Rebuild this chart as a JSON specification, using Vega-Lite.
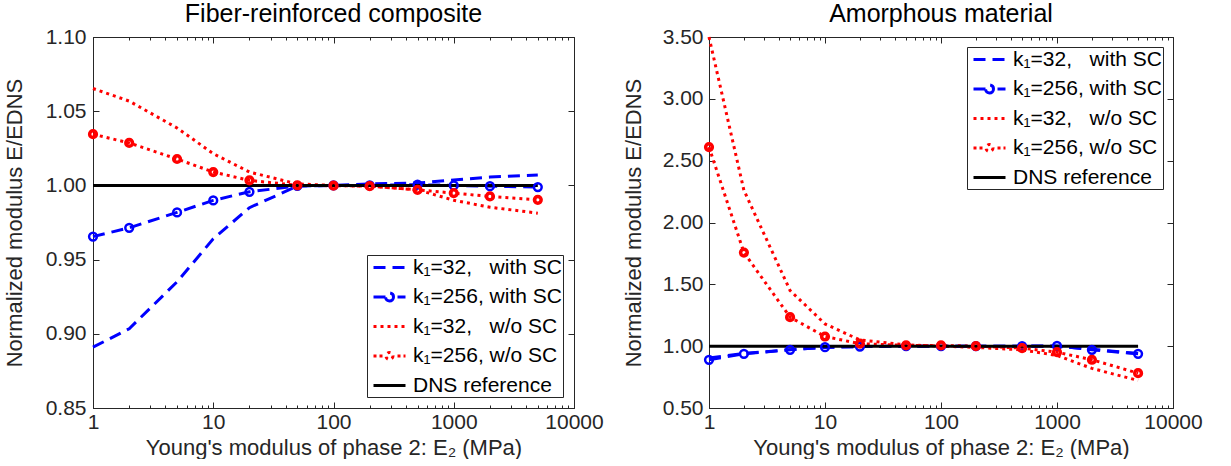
{
  "$schema": "https://vega.github.io/schema/vega-lite/v6.json",
  "background": "white",
  "padding": {"left": 2, "top": 1, "right": 5, "bottom": 0},
  "config": {
    "font": "Liberation Sans",
    "view": {"stroke": "#262626", "strokeWidth": 1},
    "axis": {"domainColor": "#262626", "tickColor": "#262626", "labelColor": "#262626", "titleColor": "#262626", "labelFontSize": 21, "titleFontSize": 22, "titleFontWeight": "normal", "grid": false, "tickWidth": 1, "domainWidth": 1},
    "title": {"fontSize": 25, "fontWeight": "normal", "color": "#000000", "offset": -1}
  },
  "datasets": {
    "L": [
      {"series": "k\u2081=32,\u00a0\u00a0\u00a0with SC", "E2": 1, "ratio": 0.891},
      {"series": "k\u2081=32,\u00a0\u00a0\u00a0with SC", "E2": 2, "ratio": 0.9034},
      {"series": "k\u2081=32,\u00a0\u00a0\u00a0with SC", "E2": 5, "ratio": 0.935},
      {"series": "k\u2081=32,\u00a0\u00a0\u00a0with SC", "E2": 10, "ratio": 0.964},
      {"series": "k\u2081=32,\u00a0\u00a0\u00a0with SC", "E2": 20, "ratio": 0.985},
      {"series": "k\u2081=32,\u00a0\u00a0\u00a0with SC", "E2": 50, "ratio": 0.9995},
      {"series": "k\u2081=32,\u00a0\u00a0\u00a0with SC", "E2": 100, "ratio": 1.0},
      {"series": "k\u2081=32,\u00a0\u00a0\u00a0with SC", "E2": 200, "ratio": 1.001},
      {"series": "k\u2081=32,\u00a0\u00a0\u00a0with SC", "E2": 500, "ratio": 1.0016},
      {"series": "k\u2081=32,\u00a0\u00a0\u00a0with SC", "E2": 1000, "ratio": 1.0036},
      {"series": "k\u2081=32,\u00a0\u00a0\u00a0with SC", "E2": 2000, "ratio": 1.0056},
      {"series": "k\u2081=32,\u00a0\u00a0\u00a0with SC", "E2": 5000, "ratio": 1.007},
      {"series": "k\u2081=256, with SC", "E2": 1, "ratio": 0.9655},
      {"series": "k\u2081=256, with SC", "E2": 2, "ratio": 0.9714},
      {"series": "k\u2081=256, with SC", "E2": 5, "ratio": 0.9818},
      {"series": "k\u2081=256, with SC", "E2": 10, "ratio": 0.9899},
      {"series": "k\u2081=256, with SC", "E2": 20, "ratio": 0.9957},
      {"series": "k\u2081=256, with SC", "E2": 50, "ratio": 0.9996},
      {"series": "k\u2081=256, with SC", "E2": 100, "ratio": 1.0},
      {"series": "k\u2081=256, with SC", "E2": 200, "ratio": 1.0},
      {"series": "k\u2081=256, with SC", "E2": 500, "ratio": 1.0005},
      {"series": "k\u2081=256, with SC", "E2": 1000, "ratio": 1.0},
      {"series": "k\u2081=256, with SC", "E2": 2000, "ratio": 0.9995},
      {"series": "k\u2081=256, with SC", "E2": 5000, "ratio": 0.9989},
      {"series": "k\u2081=32,\u00a0\u00a0\u00a0w/o SC", "E2": 1, "ratio": 1.0653},
      {"series": "k\u2081=32,\u00a0\u00a0\u00a0w/o SC", "E2": 2, "ratio": 1.0568},
      {"series": "k\u2081=32,\u00a0\u00a0\u00a0w/o SC", "E2": 5, "ratio": 1.0387},
      {"series": "k\u2081=32,\u00a0\u00a0\u00a0w/o SC", "E2": 10, "ratio": 1.0214},
      {"series": "k\u2081=32,\u00a0\u00a0\u00a0w/o SC", "E2": 20, "ratio": 1.009},
      {"series": "k\u2081=32,\u00a0\u00a0\u00a0w/o SC", "E2": 50, "ratio": 1.001},
      {"series": "k\u2081=32,\u00a0\u00a0\u00a0w/o SC", "E2": 100, "ratio": 1.0},
      {"series": "k\u2081=32,\u00a0\u00a0\u00a0w/o SC", "E2": 200, "ratio": 0.9995},
      {"series": "k\u2081=32,\u00a0\u00a0\u00a0w/o SC", "E2": 500, "ratio": 0.997},
      {"series": "k\u2081=32,\u00a0\u00a0\u00a0w/o SC", "E2": 1000, "ratio": 0.99},
      {"series": "k\u2081=32,\u00a0\u00a0\u00a0w/o SC", "E2": 2000, "ratio": 0.9853},
      {"series": "k\u2081=32,\u00a0\u00a0\u00a0w/o SC", "E2": 5000, "ratio": 0.9813},
      {"series": "k\u2081=256, w/o SC", "E2": 1, "ratio": 1.0345},
      {"series": "k\u2081=256, w/o SC", "E2": 2, "ratio": 1.0286},
      {"series": "k\u2081=256, w/o SC", "E2": 5, "ratio": 1.0178},
      {"series": "k\u2081=256, w/o SC", "E2": 10, "ratio": 1.009},
      {"series": "k\u2081=256, w/o SC", "E2": 20, "ratio": 1.0034},
      {"series": "k\u2081=256, w/o SC", "E2": 50, "ratio": 1.0},
      {"series": "k\u2081=256, w/o SC", "E2": 100, "ratio": 0.9998},
      {"series": "k\u2081=256, w/o SC", "E2": 200, "ratio": 0.9995},
      {"series": "k\u2081=256, w/o SC", "E2": 500, "ratio": 0.997},
      {"series": "k\u2081=256, w/o SC", "E2": 1000, "ratio": 0.9948},
      {"series": "k\u2081=256, w/o SC", "E2": 2000, "ratio": 0.9926},
      {"series": "k\u2081=256, w/o SC", "E2": 5000, "ratio": 0.9903},
      {"series": "DNS reference", "E2": 1, "ratio": 1.0},
      {"series": "DNS reference", "E2": 5000, "ratio": 1.0}
    ],
    "R": [
      {"series": "k\u2081=32,\u00a0\u00a0\u00a0with SC", "E2": 1, "ratio": 0.905},
      {"series": "k\u2081=32,\u00a0\u00a0\u00a0with SC", "E2": 2, "ratio": 0.94},
      {"series": "k\u2081=32,\u00a0\u00a0\u00a0with SC", "E2": 5, "ratio": 0.972},
      {"series": "k\u2081=32,\u00a0\u00a0\u00a0with SC", "E2": 10, "ratio": 0.99},
      {"series": "k\u2081=32,\u00a0\u00a0\u00a0with SC", "E2": 20, "ratio": 0.997},
      {"series": "k\u2081=32,\u00a0\u00a0\u00a0with SC", "E2": 50, "ratio": 1.0},
      {"series": "k\u2081=32,\u00a0\u00a0\u00a0with SC", "E2": 100, "ratio": 1.0},
      {"series": "k\u2081=32,\u00a0\u00a0\u00a0with SC", "E2": 200, "ratio": 1.0},
      {"series": "k\u2081=32,\u00a0\u00a0\u00a0with SC", "E2": 500, "ratio": 1.0},
      {"series": "k\u2081=32,\u00a0\u00a0\u00a0with SC", "E2": 1000, "ratio": 1.0},
      {"series": "k\u2081=32,\u00a0\u00a0\u00a0with SC", "E2": 2000, "ratio": 0.975},
      {"series": "k\u2081=32,\u00a0\u00a0\u00a0with SC", "E2": 5000, "ratio": 0.94},
      {"series": "k\u2081=256, with SC", "E2": 1, "ratio": 0.89},
      {"series": "k\u2081=256, with SC", "E2": 2, "ratio": 0.938},
      {"series": "k\u2081=256, with SC", "E2": 5, "ratio": 0.971},
      {"series": "k\u2081=256, with SC", "E2": 10, "ratio": 0.992},
      {"series": "k\u2081=256, with SC", "E2": 20, "ratio": 0.997},
      {"series": "k\u2081=256, with SC", "E2": 50, "ratio": 1.0},
      {"series": "k\u2081=256, with SC", "E2": 100, "ratio": 1.0},
      {"series": "k\u2081=256, with SC", "E2": 200, "ratio": 1.0},
      {"series": "k\u2081=256, with SC", "E2": 500, "ratio": 1.0},
      {"series": "k\u2081=256, with SC", "E2": 1000, "ratio": 1.002},
      {"series": "k\u2081=256, with SC", "E2": 2000, "ratio": 0.971},
      {"series": "k\u2081=256, with SC", "E2": 5000, "ratio": 0.938},
      {"series": "k\u2081=32,\u00a0\u00a0\u00a0w/o SC", "E2": 1, "ratio": 3.5},
      {"series": "k\u2081=32,\u00a0\u00a0\u00a0w/o SC", "E2": 2, "ratio": 2.26},
      {"series": "k\u2081=32,\u00a0\u00a0\u00a0w/o SC", "E2": 5, "ratio": 1.45},
      {"series": "k\u2081=32,\u00a0\u00a0\u00a0w/o SC", "E2": 10, "ratio": 1.18},
      {"series": "k\u2081=32,\u00a0\u00a0\u00a0w/o SC", "E2": 20, "ratio": 1.05},
      {"series": "k\u2081=32,\u00a0\u00a0\u00a0w/o SC", "E2": 50, "ratio": 1.01},
      {"series": "k\u2081=32,\u00a0\u00a0\u00a0w/o SC", "E2": 100, "ratio": 1.0},
      {"series": "k\u2081=32,\u00a0\u00a0\u00a0w/o SC", "E2": 200, "ratio": 0.99},
      {"series": "k\u2081=32,\u00a0\u00a0\u00a0w/o SC", "E2": 500, "ratio": 0.97},
      {"series": "k\u2081=32,\u00a0\u00a0\u00a0w/o SC", "E2": 1000, "ratio": 0.925},
      {"series": "k\u2081=32,\u00a0\u00a0\u00a0w/o SC", "E2": 2000, "ratio": 0.82},
      {"series": "k\u2081=32,\u00a0\u00a0\u00a0w/o SC", "E2": 5000, "ratio": 0.723},
      {"series": "k\u2081=256, w/o SC", "E2": 1, "ratio": 2.61},
      {"series": "k\u2081=256, w/o SC", "E2": 2, "ratio": 1.757},
      {"series": "k\u2081=256, w/o SC", "E2": 5, "ratio": 1.234},
      {"series": "k\u2081=256, w/o SC", "E2": 10, "ratio": 1.078},
      {"series": "k\u2081=256, w/o SC", "E2": 20, "ratio": 1.02},
      {"series": "k\u2081=256, w/o SC", "E2": 50, "ratio": 1.006},
      {"series": "k\u2081=256, w/o SC", "E2": 100, "ratio": 1.006},
      {"series": "k\u2081=256, w/o SC", "E2": 200, "ratio": 1.0},
      {"series": "k\u2081=256, w/o SC", "E2": 500, "ratio": 0.985},
      {"series": "k\u2081=256, w/o SC", "E2": 1000, "ratio": 0.951},
      {"series": "k\u2081=256, w/o SC", "E2": 2000, "ratio": 0.89},
      {"series": "k\u2081=256, w/o SC", "E2": 5000, "ratio": 0.782},
      {"series": "DNS reference", "E2": 1, "ratio": 1.0},
      {"series": "DNS reference", "E2": 5000, "ratio": 1.0}
    ]
  },
  "resolve": {"scale": {"color": "independent", "strokeDash": "independent"}, "legend": {"color": "independent"}},
  "spacing": 17,
  "hconcat": [
    {
      "title": "Fiber-reinforced composite",
      "width": 481,
      "height": 371,
      "data": {"name": "L"},
      "resolve": {"axis": {"x": "independent", "y": "independent"}},
      "layer": [
        {
          "mark": {"type": "line", "strokeWidth": 3, "strokeCap": "butt"},
          "encoding": {
            "x": {"field": "E2", "type": "quantitative", "scale": {"type": "log", "domain": [1, 10000], "nice": false},
              "axis": {"orient": "bottom", "title": "Young's modulus of phase 2: E\u2082 (MPa)", "values": [1,2,3,4,5,6,7,8,9,10,20,30,40,50,60,70,80,90,100,200,300,400,500,600,700,800,900,1000,2000,3000,4000,5000,6000,7000,8000,9000,10000], "format": "d", "labelExpr": "indexof([1,10,100,1000,10000], datum.value) >= 0 ? datum.label : ''", "tickSize": {"condition": {"test": "indexof([1,10,100,1000,10000], datum.value) >= 0", "value": -6}, "value": -3}, "labelPadding": 9, "labelFlush": false, "labelOverlap": false, "titlePadding": 2}},
            "y": {"field": "ratio", "type": "quantitative", "scale": {"domain": [0.85, 1.1], "nice": false, "zero": false},
              "axis": {"orient": "left", "title": "Normalized modulus E/EDNS", "values": [0.85, 0.9, 0.95, 1.0, 1.05, 1.1], "format": ".2f", "tickSize": -6, "labelPadding": 13, "titlePadding": 19}},
            "color": {"field": "series", "type": "nominal",
              "scale": {"domain": ["k\u2081=32,\u00a0\u00a0\u00a0with SC", "k\u2081=256, with SC", "k\u2081=32,\u00a0\u00a0\u00a0w/o SC", "k\u2081=256, w/o SC", "DNS reference"], "range": ["#0000ff", "#0000ff", "#ff0000", "#ff0000", "#000000"]},
              "legend": {"orient": "bottom-right", "offset": 11, "title": null, "strokeColor": "#262626", "fillColor": "white", "padding": 1, "rowPadding": 7.5, "labelFontSize": 21, "labelColor": "#000000", "labelOffset": 12, "symbolSize": 400, "symbolOffset": 10, "symbolStrokeWidth": 3, "labelLimit": 300,
                "encode": {"symbols": {"update": {
                  "shape": {"signal": "indexof(datum.value,'256')>=0 ? (indexof(datum.value,'w/o')>=0 ? 'M-1.6,0H-1.3M-1.0,0H-0.7M0.8,0H1.1M1.4,0H1.6M0.35,0A0.35,0.35,0,1,1,-0.35,0A0.35,0.35,0,1,1,0.35,0' : 'M-1.6,0H-0.4M0.8,0H1.6M0.4,0A0.4,0.4,0,1,1,-0.4,0A0.4,0.4,0,1,1,0.4,0') : 'M-1.6,0H1.6'"},
                  "strokeDash": {"signal": "(indexof(datum.value,'256')>=0 || indexof(datum.value,'DNS')>=0) ? [1,0] : (indexof(datum.value,'w/o')>=0 ? [3,3.5] : [15,10])"},
                  "fill": {"value": "white"}
                }}}}},
            "strokeDash": {"field": "series", "type": "nominal",
              "scale": {"domain": ["k\u2081=32,\u00a0\u00a0\u00a0with SC", "k\u2081=256, with SC", "k\u2081=32,\u00a0\u00a0\u00a0w/o SC", "k\u2081=256, w/o SC", "DNS reference"], "range": [[12,7],[12,7],[3,4],[3,4],[1,0]]},
              "legend": null}
          }
        },
        {
          "transform": [{"filter": "indexof(datum.series,'256')>=0"}],
          "mark": {"type": "point", "shape": "circle", "filled": false, "opacity": 1},
          "encoding": {
            "x": {"field": "E2", "type": "quantitative", "scale": {"type": "log", "domain": [1, 10000], "nice": false},
              "axis": {"orient": "top", "title": null, "labels": false, "values": [1,2,3,4,5,6,7,8,9,10,20,30,40,50,60,70,80,90,100,200,300,400,500,600,700,800,900,1000,2000,3000,4000,5000,6000,7000,8000,9000,10000], "tickSize": {"condition": {"test": "indexof([1,10,100,1000,10000], datum.value) >= 0", "value": -6}, "value": -3}, "domain": false}},
            "y": {"field": "ratio", "type": "quantitative", "scale": {"domain": [0.85, 1.1], "nice": false, "zero": false},
              "axis": {"orient": "right", "title": null, "labels": false, "values": [0.85, 0.9, 0.95, 1.0, 1.05, 1.1], "tickSize": -6, "domain": false}},
            "color": {"field": "series", "type": "nominal", "legend": null},
            "size": {"condition": {"test": "indexof(datum.series,'w/o')>=0", "value": 45}, "value": 60},
            "strokeWidth": {"condition": {"test": "indexof(datum.series,'w/o')>=0", "value": 3.5}, "value": 2.5}
          }
        }
      ]
    },
    {
      "title": "Amorphous material",
      "width": 464,
      "height": 371,
      "data": {"name": "R"},
      "resolve": {"axis": {"x": "independent", "y": "independent"}},
      "layer": [
        {
          "mark": {"type": "line", "strokeWidth": 3, "strokeCap": "butt"},
          "encoding": {
            "x": {"field": "E2", "type": "quantitative", "scale": {"type": "log", "domain": [1, 10000], "nice": false},
              "axis": {"orient": "bottom", "title": "Young's modulus of phase 2: E\u2082 (MPa)", "values": [1,2,3,4,5,6,7,8,9,10,20,30,40,50,60,70,80,90,100,200,300,400,500,600,700,800,900,1000,2000,3000,4000,5000,6000,7000,8000,9000,10000], "format": "d", "labelExpr": "indexof([1,10,100,1000,10000], datum.value) >= 0 ? datum.label : ''", "tickSize": {"condition": {"test": "indexof([1,10,100,1000,10000], datum.value) >= 0", "value": -6}, "value": -3}, "labelPadding": 9, "labelFlush": false, "labelOverlap": false, "titlePadding": 2}},
            "y": {"field": "ratio", "type": "quantitative", "scale": {"domain": [0.5, 3.5], "nice": false, "zero": false},
              "axis": {"orient": "left", "title": "Normalized modulus E/EDNS", "values": [0.5, 1.0, 1.5, 2.0, 2.5, 3.0, 3.5], "format": ".2f", "tickSize": -6, "labelPadding": 12, "titlePadding": 17}},
            "color": {"field": "series", "type": "nominal",
              "scale": {"domain": ["k\u2081=32,\u00a0\u00a0\u00a0with SC", "k\u2081=256, with SC", "k\u2081=32,\u00a0\u00a0\u00a0w/o SC", "k\u2081=256, w/o SC", "DNS reference"], "range": ["#0000ff", "#0000ff", "#ff0000", "#ff0000", "#000000"]},
              "legend": {"orient": "top-right", "offset": 10, "title": null, "strokeColor": "#262626", "fillColor": "white", "padding": 1, "rowPadding": 7.5, "labelFontSize": 21, "labelColor": "#000000", "labelOffset": 12, "symbolSize": 400, "symbolOffset": 10, "symbolStrokeWidth": 3, "labelLimit": 300,
                "encode": {"symbols": {"update": {
                  "shape": {"signal": "indexof(datum.value,'256')>=0 ? (indexof(datum.value,'w/o')>=0 ? 'M-1.6,0H-1.3M-1.0,0H-0.7M0.8,0H1.1M1.4,0H1.6M0.35,0A0.35,0.35,0,1,1,-0.35,0A0.35,0.35,0,1,1,0.35,0' : 'M-1.6,0H-0.4M0.8,0H1.6M0.4,0A0.4,0.4,0,1,1,-0.4,0A0.4,0.4,0,1,1,0.4,0') : 'M-1.6,0H1.6'"},
                  "strokeDash": {"signal": "(indexof(datum.value,'256')>=0 || indexof(datum.value,'DNS')>=0) ? [1,0] : (indexof(datum.value,'w/o')>=0 ? [3,3.5] : [15,10])"},
                  "fill": {"value": "white"}
                }}}}},
            "strokeDash": {"field": "series", "type": "nominal",
              "scale": {"domain": ["k\u2081=32,\u00a0\u00a0\u00a0with SC", "k\u2081=256, with SC", "k\u2081=32,\u00a0\u00a0\u00a0w/o SC", "k\u2081=256, w/o SC", "DNS reference"], "range": [[12,7],[12,7],[3,4],[3,4],[1,0]]},
              "legend": null}
          }
        },
        {
          "transform": [{"filter": "indexof(datum.series,'256')>=0"}],
          "mark": {"type": "point", "shape": "circle", "filled": false, "opacity": 1},
          "encoding": {
            "x": {"field": "E2", "type": "quantitative", "scale": {"type": "log", "domain": [1, 10000], "nice": false},
              "axis": {"orient": "top", "title": null, "labels": false, "values": [1,2,3,4,5,6,7,8,9,10,20,30,40,50,60,70,80,90,100,200,300,400,500,600,700,800,900,1000,2000,3000,4000,5000,6000,7000,8000,9000,10000], "tickSize": {"condition": {"test": "indexof([1,10,100,1000,10000], datum.value) >= 0", "value": -6}, "value": -3}, "domain": false}},
            "y": {"field": "ratio", "type": "quantitative", "scale": {"domain": [0.5, 3.5], "nice": false, "zero": false},
              "axis": {"orient": "right", "title": null, "labels": false, "values": [0.5, 1.0, 1.5, 2.0, 2.5, 3.0, 3.5], "tickSize": -6, "domain": false}},
            "color": {"field": "series", "type": "nominal", "legend": null},
            "size": {"condition": {"test": "indexof(datum.series,'w/o')>=0", "value": 45}, "value": 60},
            "strokeWidth": {"condition": {"test": "indexof(datum.series,'w/o')>=0", "value": 3.5}, "value": 2.5}
          }
        }
      ]
    }
  ]
}
